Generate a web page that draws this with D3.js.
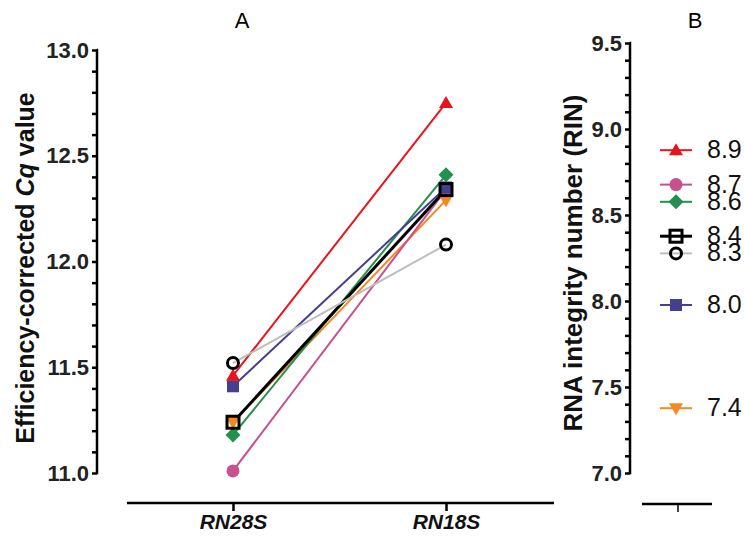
<!DOCTYPE html>
<html>
<head>
<meta charset="utf-8">
<script src="https://cdn.jsdelivr.net/npm/d3@7"></script>
<style>
  body { margin: 0; background: #fff; }
  text { font-family: "Liberation Sans", Arial, sans-serif; }
</style>
</head>
<body>
<div id="chart"></div>
<script>
// data
var genes = ["RN28S", "RN18S"];
var rin = [8.9, 8.7, 8.6, 8.4, 8.3, 8.0, 7.4];
var cqRN28S = [11.46, 11.01, 11.18, 11.24, 11.52, 11.41, 11.24];
var cqRN18S = [12.75, 12.34, 12.41, 12.34, 12.08, 12.35, 12.29];
var colors = ["#e8141c", "#c8508c", "#239050", "#000000", "#bdbdbd", "#453f8f", "#f5881e"];
var symbols = ["triangle", "circle", "diamond", "square", "ring", "fsquare", "tridown"];
var cqTicks = [11.0, 11.5, 12.0, 12.5, 13.0];
var rinTicks = [7.0, 7.5, 8.0, 8.5, 9.0, 9.5];

var W = 744, H = 538;
var svg = d3.select("#chart").append("svg").attr("width", W).attr("height", H);

// drawing order (gray on top, like the original)
var order = [6, 1, 2, 5, 3, 0, 4];

function drawSymbol(g, s, col, x, y) {
  if (s == "triangle") {
    g.append("path").attr("d", "M" + x + "," + (y - 7) + "L" + (x + 7) + "," + (y + 5) + "L" + (x - 7) + "," + (y + 5) + "Z").style("fill", col);
  } else if (s == "tridown") {
    g.append("path").attr("d", "M" + x + "," + (y + 7) + "L" + (x + 7) + "," + (y - 5) + "L" + (x - 7) + "," + (y - 5) + "Z").style("fill", col);
  } else if (s == "circle") {
    g.append("circle").attr("cx", x).attr("cy", y).attr("r", 6.5).style("fill", col);
  } else if (s == "diamond") {
    g.append("path").attr("d", "M" + x + "," + (y - 7.5) + "L" + (x + 7.5) + "," + y + "L" + x + "," + (y + 7.5) + "L" + (x - 7.5) + "," + y + "Z").style("fill", col);
  } else if (s == "square") {
    g.append("rect").attr("x", x - 6).attr("y", y - 6).attr("width", 12).attr("height", 12)
      .style("fill", "none").style("stroke", "#000").style("stroke-width", 3);
  } else if (s == "fsquare") {
    g.append("rect").attr("x", x - 6).attr("y", y - 6).attr("width", 12).attr("height", 12).style("fill", col);
  } else if (s == "ring") {
    g.append("circle").attr("cx", x).attr("cy", y).attr("r", 5.5)
      .style("fill", "none").style("stroke", "#000").style("stroke-width", 3);
  }
}

///////////////////////// Panel A /////////////////////////
var yA = d3.scaleLinear().domain([11, 13]).range([473, 50]);
var xA = d3.scalePoint().domain(genes).range([233, 446]);

var axA = svg.append("g").attr("transform", "translate(97,0)")
  .call(d3.axisLeft(yA).tickValues(d3.range(110, 131).map(function(v) { return v / 10; }))
    .tickSize(5).tickFormat(function(d) { return cqTicks.some(function(t) { return Math.abs(t - d) < 1e-6; }) ? d.toFixed(1) : ""; }));
axA.select(".domain").attr("d", "M-0.5," + yA(13) + "H0V" + yA(11) + "H-0.5");
axA.selectAll("line, path").style("stroke", "#000").style("stroke-width", 2.5);
axA.selectAll("text").style("font-size", "22px").style("font-weight", "bold").style("fill", "#222").attr("x", -8);

var axX = svg.append("g").attr("transform", "translate(0,503)")
  .call(d3.axisBottom(xA).tickSize(8).tickSizeOuter(0));
axX.select(".domain").attr("d", "M127,0H554");
axX.selectAll("line, path").style("stroke", "#000").style("stroke-width", 2.5);
axX.selectAll("text").style("font-size", "21px").style("font-weight", "bold").style("font-style", "italic")
  .style("fill", "#111").attr("y", 11);

svg.append("text").attr("x", 242).attr("y", 28).attr("text-anchor", "middle")
  .style("font-size", "22px").text("A");

var labA = svg.append("text").attr("transform", "translate(34,268) rotate(-90)")
  .attr("text-anchor", "middle").style("font-size", "25px").style("font-weight", "bold").style("fill", "#111");
labA.append("tspan").text("Efficiency-corrected  ");
labA.append("tspan").style("font-style", "italic").text("Cq");
labA.append("tspan").text(" value");

var lines = svg.append("g");
order.forEach(function(i) {
  lines.append("line")
    .attr("x1", xA("RN28S")).attr("y1", yA(cqRN28S[i]))
    .attr("x2", xA("RN18S")).attr("y2", yA(cqRN18S[i]))
    .style("stroke", colors[i]).style("stroke-width", i == 3 ? 3 : 2);
});
var marks = svg.append("g");
order.forEach(function(i) {
  drawSymbol(marks, symbols[i], colors[i], xA("RN28S"), yA(cqRN28S[i]));
  drawSymbol(marks, symbols[i], colors[i], xA("RN18S"), yA(cqRN18S[i]));
});

///////////////////////// Panel B /////////////////////////
var yB = d3.scaleLinear().domain([7, 9.5]).range([473, 43]);

var axB = svg.append("g").attr("transform", "translate(630,0)")
  .call(d3.axisLeft(yB).tickValues(d3.range(70, 96).map(function(v) { return v / 10; }))
    .tickSize(5).tickFormat(function(d) { return rinTicks.some(function(t) { return Math.abs(t - d) < 1e-6; }) ? d.toFixed(1) : ""; }));
axB.select(".domain").attr("d", "M-0.5," + yB(9.5) + "H0V" + yB(7) + "H-0.5");
axB.selectAll("line, path").style("stroke", "#000").style("stroke-width", 2.5);
axB.selectAll("text").style("font-size", "22px").style("font-weight", "bold").style("fill", "#222").attr("x", -8);

var axBx = svg.append("g").attr("transform", "translate(0,504)");
axBx.append("line").attr("x1", 642).attr("x2", 712).style("stroke", "#000").style("stroke-width", 2.5);
axBx.append("line").attr("x1", 678).attr("x2", 678).attr("y1", 0).attr("y2", 8).style("stroke", "#000").style("stroke-width", 1.5);

svg.append("text").attr("x", 695).attr("y", 28).attr("text-anchor", "middle")
  .style("font-size", "22px").text("B");

svg.append("text").attr("transform", "translate(582,263) rotate(-90)")
  .attr("text-anchor", "middle").style("font-size", "26px").style("font-weight", "bold").style("fill", "#111")
  .text("RNA integrity number (RIN)");

var rinG = svg.append("g");
rin.forEach(function(v, i) {
  var y = yB(v) + 4;
  rinG.append("line").attr("x1", 660).attr("x2", 692).attr("y1", y).attr("y2", y)
    .style("stroke", colors[i]).style("stroke-width", i == 3 ? 3 : 2);
  drawSymbol(rinG, symbols[i], colors[i], 676, y);
  rinG.append("text").attr("x", 707).attr("y", y + 8).style("font-size", "25px").style("fill", "#111")
    .text(v.toFixed(1));
});
</script>
</body>
</html>
